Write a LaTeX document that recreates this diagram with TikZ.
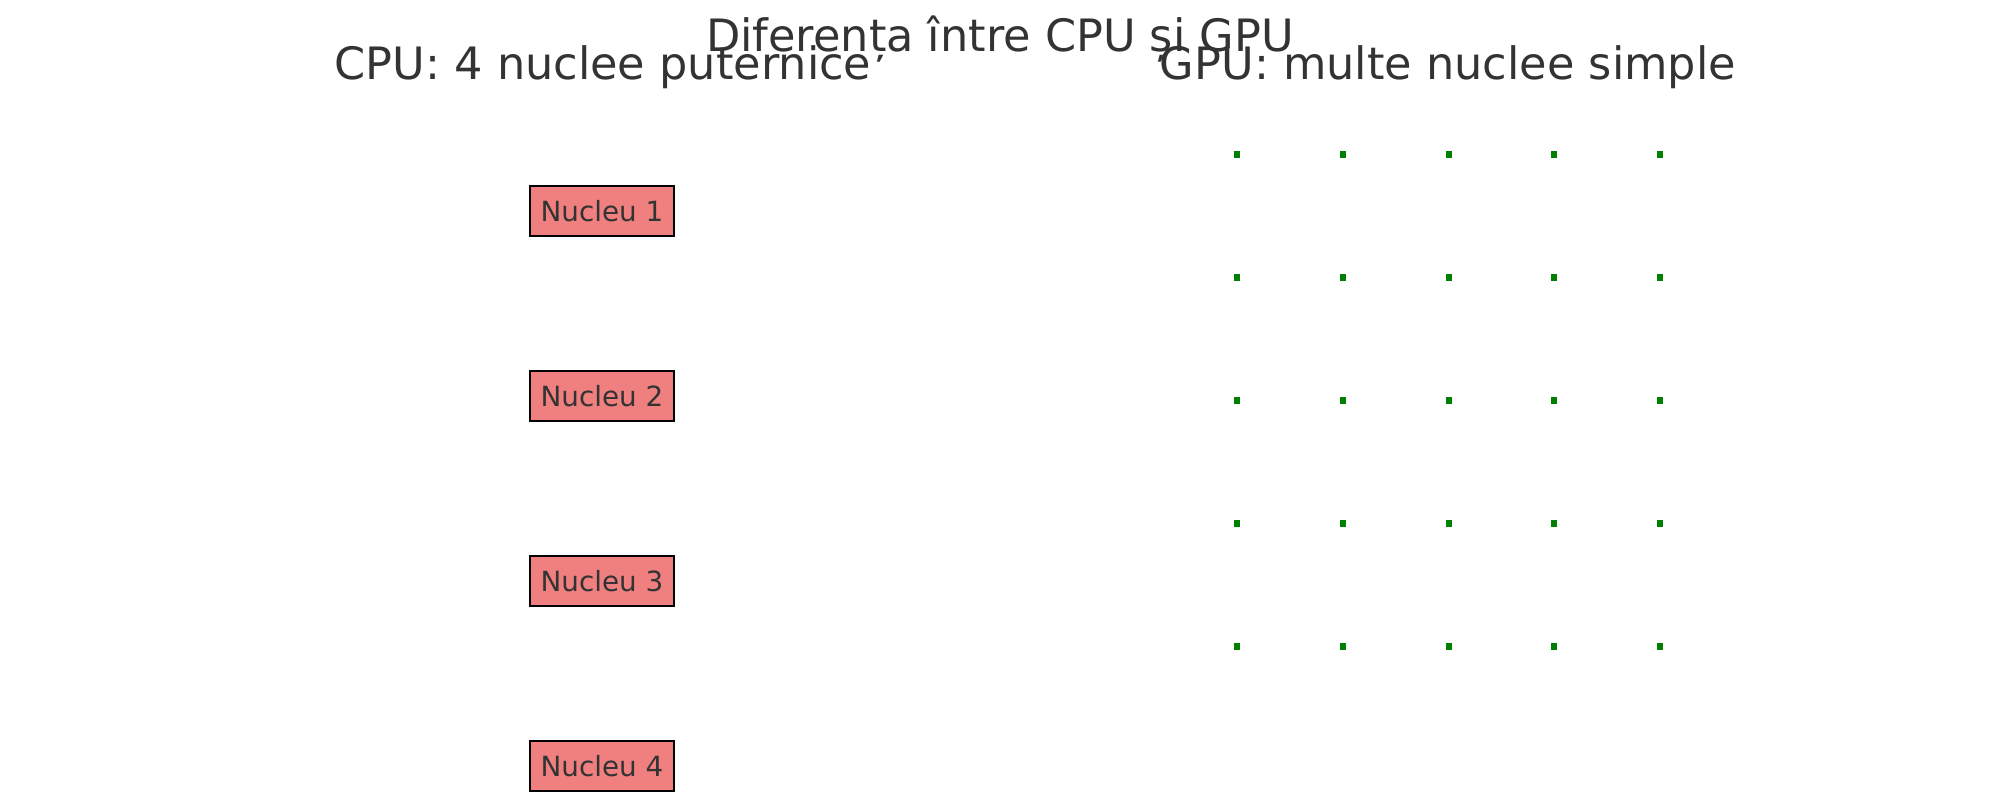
\documentclass[tikz,border=0pt]{standalone}
\usepackage{fontspec}
\setmainfont{DejaVu Sans}
\definecolor{txt}{HTML}{333333}
\definecolor{corebg}{HTML}{F08080}
\definecolor{dotgreen}{HTML}{008000}
\begin{document}
\begin{tikzpicture}[x=0.5pt,y=-0.5pt,
  titletext/.style={text=txt,font=\fontsize{22.3}{26}\selectfont,inner sep=0pt,anchor=base},
  corebox/.style={draw=black,line width=1.1pt,fill=corebg,text=txt,
    font=\fontsize{13.9}{16}\selectfont,minimum width=72pt,minimum height=25pt,inner sep=0pt},
  gpudot/.style={fill=dotgreen,draw=none,minimum width=3pt,minimum height=3.5pt,inner sep=0pt}]
\useasboundingbox (0,0) rectangle (2000,800);
\node[titletext] (title) at (1000,51) {Diferența între CPU și GPU};
\node[titletext] (cputitle) at (603,79) {CPU: 4 nuclee puternice};
\node[titletext] (gputitle) at (1448,79) {GPU: multe nuclee simple};
\foreach \i/\y in {1/211,2/396,3/581,4/766}{
  \node[corebox] (core\i) at (602,\y) {Nucleu \i};
}
\foreach \r/\y in {1/154.5,2/277.5,3/400.5,4/523.5,5/646.5}{
  \foreach \c/\x in {1/1237,2/1343,3/1449,4/1554,5/1660}{
    \node[gpudot] (dot\r\c) at (\x,\y) {};
  }
}
\end{tikzpicture}
\end{document}
